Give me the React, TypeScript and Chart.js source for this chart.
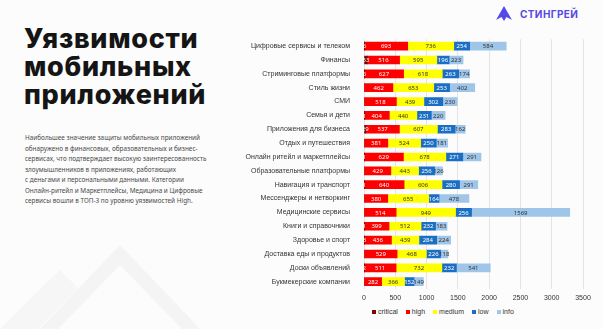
import React, { useEffect, useRef } from "react";
import { Chart, registerables } from "chart.js";

Chart.register(...registerables);

const categories = [
  "Цифровые сервисы и телеком",
  "Финансы",
  "Стриминговые платформы",
  "Стиль жизни",
  "СМИ",
  "Семья и дети",
  "Приложения для бизнеса",
  "Отдых и путешествия",
  "Онлайн ритейл и маркетплейсы",
  "Образовательные платформы",
  "Навигация и транспорт",
  "Мессенджеры и нетворкинг",
  "Медицинские сервисы",
  "Книги и справочники",
  "Здоровье и спорт",
  "Доставка еды и продуктов",
  "Доски объявлений",
  "Букмекерские компании",
];

const critical = [6, 53, 6, 0, 0, 1, 29, 0, 1, 0, 1, 0, 0, 1, 3, 0, 2, 0];
const high = [693, 516, 627, 462, 518, 404, 537, 381, 629, 429, 640, 380, 514, 399, 436, 529, 511, 282];
const medium = [736, 595, 618, 653, 439, 440, 607, 524, 678, 443, 606, 655, 949, 512, 439, 468, 732, 366];
const low = [254, 196, 263, 253, 302, 231, 283, 250, 271, 256, 280, 164, 256, 232, 284, 226, 232, 152];
const info = [584, 223, 174, 402, 230, 220, 162, 181, 291, 126, 291, 478, 1569, 183, 224, 118, 541, 149];

const seriesNames = ["critical", "high", "medium", "low", "info"];
const seriesColors = ["#7a0a0a", "#ff0000", "#ffff00", "#1a6fc4", "#9fc5e8"];
const labelColors = ["#ffffff", "#ffffff", "#333333", "#ffffff", "#333333"];
const xTickValues = [0, 500, 1000, 1500, 2000, 2500, 3000, 3500];

const paragraphLines = [
  "Наибольшее значение защиты мобильных приложений",
  "обнаружено в финансовых, образовательных и бизнес-",
  "сервисах, что подтверждает высокую заинтересованность",
  "злоумышленников в приложениях, работающих",
  "с деньгами и персональными данными. Категории",
  "Онлайн-ритейл и Маркетплейсы, Медицина и Цифровые",
  "сервисы вошли в ТОП-3 по уровню уязвимостей High.",
];

const FONT = "'Noto Sans', 'Open Sans', sans-serif";
const AXIS_FONT = "'Liberation Sans', Arial, sans-serif";

const valueLabels = {
  id: "valueLabels",
  afterDatasetsDraw(chart: any) {
    const ctx = chart.ctx;
    ctx.save();
    ctx.font = `6px ${FONT}`;
    ctx.textAlign = "center";
    ctx.textBaseline = "middle";
    chart.data.datasets.forEach((ds: any, di: number) => {
      const meta = chart.getDatasetMeta(di);
      meta.data.forEach((bar: any, i: number) => {
        const v = ds.data[i];
        if (!v) return;
        const cx = (bar.x + bar.base) / 2;
        ctx.fillStyle = labelColors[di];
        ctx.fillText(String(v), cx, bar.y + 0.5);
      });
    });
    ctx.restore();
  },
};

function StackedChart() {
  const ref = useRef<HTMLCanvasElement>(null);
  useEffect(() => {
    if (!ref.current) return;
    const data = [critical, high, medium, low, info];
    const chart = new Chart(ref.current, {
      type: "bar",
      data: {
        labels: categories,
        datasets: data.map((d, i) => ({
          label: seriesNames[i],
          data: d,
          backgroundColor: seriesColors[i],
          borderWidth: 0,
          barThickness: 8,
        })),
      },
      options: {
        indexAxis: "y",
        responsive: false,
        animation: false,
        layout: { padding: { top: 9, right: 19, bottom: 0, left: 0 } },
        plugins: {
          legend: { display: false },
          tooltip: { enabled: false },
        },
        scales: {
          x: {
            stacked: true,
            min: 0,
            max: 3500,
            afterBuildTicks: (axis: any) => {
              axis.ticks = xTickValues.map((v) => ({ value: v }));
            },
            ticks: {
              font: { size: 7, family: AXIS_FONT },
              color: "#333",
              padding: 5,
              callback: (v: any) => String(v),
            },
            grid: { color: "#e4e4e4", drawTicks: false },
            border: { display: false },
          },
          y: {
            stacked: true,
            afterFit: (scale: any) => {
              scale.width = 134;
            },
            ticks: {
              font: { size: 7, family: AXIS_FONT },
              color: "#333",
              padding: 6,
            },
            grid: { display: false },
            border: { display: false },
          },
        },
      },
      plugins: [valueLabels],
    });
    return () => chart.destroy();
  }, []);
  return (
    <canvas
      ref={ref}
      width={372}
      height={278}
      style={{ position: "absolute", left: 230, top: 29, width: 372, height: 278 }}
    />
  );
}

export default function App() {
  return (
    <div
      style={{
        position: "fixed",
        left: 0,
        top: 0,
        width: 602,
        height: 329,
        background: "#fcfcfc",
        overflow: "hidden",
        fontFamily: FONT,
      }}
    >
      <svg width={602} height={329} style={{ position: "absolute", left: 0, top: 0 }}>
        <polygon points="40,329 120,245 200,329 182,329 120,265 58,329" fill="#f4f4f4" />
        <polygon points="0,329 60,270 78,288 38,329" fill="#f6f6f6" />
        <g transform="translate(496,6)">
          <path d="M8,0 L16,14 L10.5,11 L8,15 L5.5,11 L0,14 Z" fill="#5549e8" />
        </g>
      </svg>
      <div
        style={{
          position: "absolute",
          left: 520,
          top: 8,
          fontSize: 10,
          fontWeight: 700,
          color: "#5549e8",
          letterSpacing: 0.4,
          fontFamily: "'Inter', sans-serif",
        }}
      >
        СТИНГРЕЙ
      </div>
      <div
        style={{
          position: "absolute",
          left: 24,
          top: 25,
          fontSize: 27,
          lineHeight: "28px",
          fontWeight: 800,
          letterSpacing: 0.7,
          color: "#151515",
          fontFamily: "'Inter', sans-serif",
        }}
      >
        Уязвимости
        <br />
        мобильных
        <br />
        приложений
      </div>
      <div
        style={{
          position: "absolute",
          left: 25,
          top: 133,
          fontSize: 6.4,
          lineHeight: "10.5px",
          color: "#4a4a4a",
          whiteSpace: "pre",
        }}
      >
        {paragraphLines.join("\n")}
      </div>
      <StackedChart />
      <div
        style={{
          position: "absolute",
          left: 372,
          top: 308,
          display: "flex",
          alignItems: "center",
          fontSize: 7,
          color: "#333",
          fontFamily: AXIS_FONT,
        }}
      >
        {seriesNames.map((n, i) => (
          <div key={n} style={{ display: "flex", alignItems: "center", marginRight: 8 }}>
            <span
              style={{
                display: "inline-block",
                width: 4,
                height: 4,
                background: seriesColors[i],
                marginRight: 2,
              }}
            />
            {n}
          </div>
        ))}
      </div>
    </div>
  );
}
